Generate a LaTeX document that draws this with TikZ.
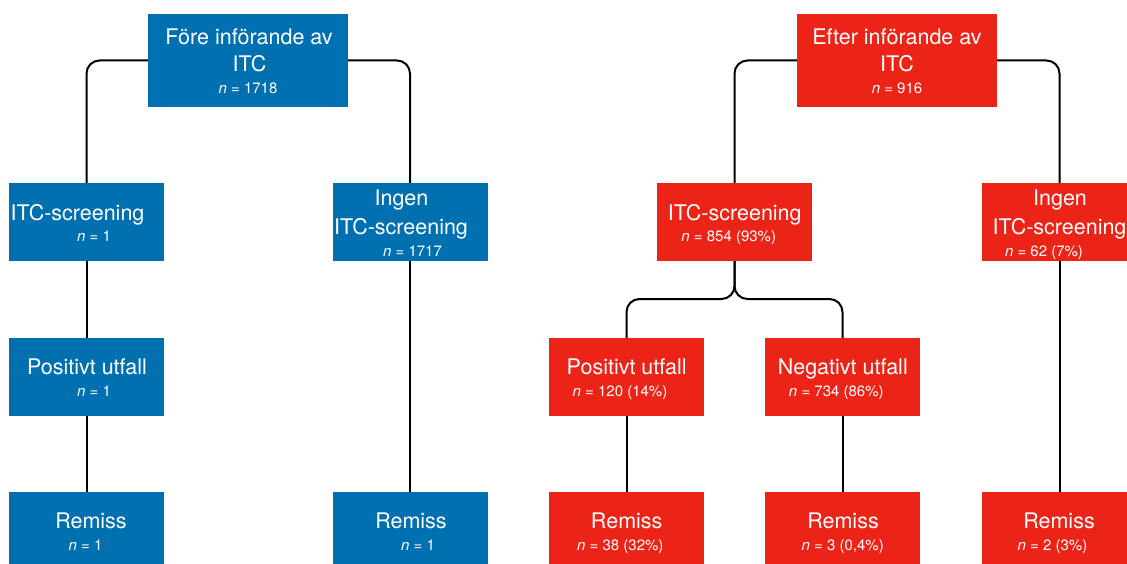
\documentclass[tikz,border=0pt]{standalone}
\usepackage{fontspec}
\setmainfont{TeX Gyre Heros}
\definecolor{boxblue}{RGB}{0,112,176}
\definecolor{boxred}{RGB}{236,36,24}
\newcommand{\nnum}{\textit{n} = }
\begin{document}
\begin{tikzpicture}[x=1pt,y=-1pt,
  bluebox/.style={rectangle,fill=boxblue,draw=none,inner sep=0pt,minimum width=155pt,minimum height=78pt},
  redbox/.style={rectangle,fill=boxred,draw=none,inner sep=0pt,minimum width=155pt,minimum height=78pt},
  topbox/.style={minimum width=200pt,minimum height=93pt},
  bigtxt/.style={anchor=base,inner sep=0pt,text=white,font=\fontsize{21.5}{25}\selectfont},
  smalltxt/.style={anchor=base,inner sep=0pt,text=white,font=\fontsize{15}{18}\selectfont},
  conn/.style={draw=black,line width=2pt,rounded corners=13pt}]
\useasboundingbox (0,0) rectangle (1127,564);
\clip (0,0) rectangle (1127,564);
% ---------- blue tree ----------
\node[bluebox,topbox] (b0) at (248,60.5) {};
\node[bluebox] (b1) at (86.5,222) {};
\node[bluebox] (b2) at (410,222) {};
\node[bluebox] (b3) at (86.5,377) {};
\node[bluebox] (b4) at (86.5,531) {};
\node[bluebox] (b5) at (410,531) {};
% ---------- red tree ----------
\node[redbox,topbox] (r0) at (897,60.5) {};
\node[redbox] (r1) at (734.5,222) {};
\node[redbox] (r2) at (1059.5,222) {};
\node[redbox] (r3) at (626.5,377) {};
\node[redbox] (r4) at (842.5,377) {};
\node[redbox] (r5) at (626.5,531) {};
\node[redbox] (r6) at (842.5,531) {};
\node[redbox] (r7) at (1059.5,531) {};
\coordinate (rj) at (734.5,299);
% ---------- connectors ----------
\draw[conn] (b0.west) -| (b1.north);
\draw[conn] (b0.east) -| (b2.north);
\draw[conn] (b1.south) -- (b3.north);
\draw[conn] (b3.south) -- (b4.north);
\draw[conn] (b2.south) -- (b5.north);
\draw[conn] (r0.west) -| (r1.north);
\draw[conn] (r0.east) -| (r2.north);
\draw[conn] (r1.south) -- (rj) -| (r3.north);
\draw[conn] (r1.south) -- (rj) -| (r4.north);
\draw[conn] (r3.south) -- (r5.north);
\draw[conn] (r4.south) -- (r6.north);
\draw[conn] (r2.south) -- (r7.north);
% ---------- texts: blue ----------
\node[bigtxt] (b0a) at (249,44.3) {Före införande av};
\node[bigtxt] (b0b) at (249.5,71.7) {ITC};
\node[smalltxt] (b0c) at (248,93.3) {\nnum 1718};
\node[bigtxt] (b1a) at (77.5,220.3) {ITC-screening};
\node[smalltxt] (b1b) at (94,241.7) {\nnum 1};
\node[bigtxt] (b2a) at (401.5,205.7) {Ingen};
\node[bigtxt] (b2b) at (401,235) {ITC-screening};
\node[smalltxt] (b2c) at (412.5,256.7) {\nnum 1717};
\node[bigtxt] (b3a) at (87,374.3) {Positivt utfall};
\node[smalltxt] (b3b) at (94,396.2) {\nnum 1};
\node[bigtxt] (b4a) at (91,528.7) {Remiss};
\node[smalltxt] (b4b) at (85.5,550) {\nnum 1};
\node[bigtxt] (b5a) at (411,528.7) {Remiss};
\node[smalltxt] (b5b) at (418,550) {\nnum 1};
% ---------- texts: red ----------
\node[bigtxt] (r0a) at (897,44.3) {Efter införande av};
\node[bigtxt] (r0b) at (897,71.7) {ITC};
\node[smalltxt] (r0c) at (897,93.3) {\nnum 916};
\node[bigtxt] (r1a) at (734.7,220.3) {ITC-screening};
\node[smalltxt] (r1b) at (728.7,241.7) {\nnum 854 (93\%)};
\node[bigtxt] (r2a) at (1060,205.7) {Ingen};
\node[bigtxt] (r2b) at (1059.5,235) {ITC-screening};
\node[smalltxt] (r2c) at (1044,256.7) {\nnum 62 (7\%)};
\node[bigtxt] (r3a) at (626.7,374.3) {Positivt utfall};
\node[smalltxt] (r3b) at (620,396.7) {\nnum 120 (14\%)};
\node[bigtxt] (r4a) at (842.8,374.3) {Negativt utfall};
\node[smalltxt] (r4b) at (836.3,396.7) {\nnum 734 (86\%)};
\node[bigtxt] (r5a) at (626.7,528.3) {Remiss};
\node[smalltxt] (r5b) at (620.3,550) {\nnum 38 (32\%)};
\node[bigtxt] (r6a) at (843,528.3) {Remiss};
\node[smalltxt] (r6b) at (842.7,550) {\nnum 3 (0,4\%)};
\node[bigtxt] (r7a) at (1059,528.3) {Remiss};
\node[smalltxt] (r7b) at (1052.5,550) {\nnum 2 (3\%)};
\end{tikzpicture}
\end{document}
